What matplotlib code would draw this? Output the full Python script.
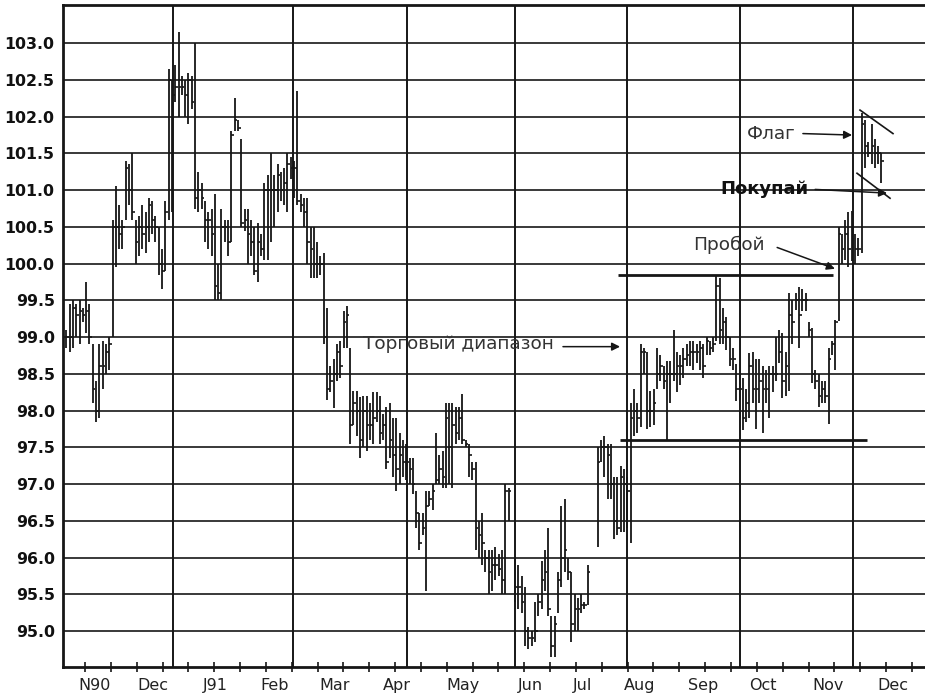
import numpy as np
import matplotlib
matplotlib.use("Agg")
from matplotlib import pyplot as plt

# daily bars (high, low, close), Nov 1990 .. Dec 1991; nan = no trading shown
highs = [99.1, 99.45, 99.5, 99.45, 99.5, 99.4, 99.75, 99.45, 98.9, 98.4,
         98.9, 98.95, 98.9, 99.0, 100.6, 101.05, 100.8, 100.6, 101.4, 101.35,
         101.5, 100.6, 100.65, 100.8, 100.7, 100.9, 100.85, 100.65, 100.5, 100.2,
         100.85, 102.65, 102.5, 102.7, 103.15, 102.55, 102.5, 102.6, 102.55, 103.0,
         101.25, 101.1, 100.85, 100.7, 100.75, 100.95, 100.0, 100.75, 100.6, 100.6,
         101.8, 102.25, 101.95, 101.7, 100.75, 100.75, 100.6, 100.5, 100.55, 100.4,
         101.1, 101.2, 101.5, 101.2, 101.35, 101.25, 101.3, 101.5, 101.45, 101.4,
         102.35, 100.95, 100.9, 100.9, 100.5, 100.5, 100.3, 100.1, 100.15, 99.4,
         98.6, 98.7, 98.9, 98.95, 99.35, 99.43, 98.85, 98.27, 98.27, 98.18,
         98.2, 98.2, 98.1, 98.25, 98.25, 98.2, 97.95, 98.05, 98.1, 97.9,
         97.9, 97.7, 97.6, 97.55, 97.35, 97.36, 96.9, 96.6, 96.6, 96.9,
         96.9, 97.0, 97.7, 97.4, 97.45, 98.1, 98.1, 98.1, 98.05, 98.05,
         98.23, 97.6, 97.55, 97.3, 97.3, 96.5, 96.6, 96.1, 96.1, 96.1,
         96.15, 96.05, 96.1, 97.0, 96.95, np.nan, 96.0, 95.9, 95.75, 95.6,
         95.05, 95.0, 95.4, 95.5, 95.95, 96.1, 96.4, 95.2, 95.2, 95.8,
         96.7, 96.8, 96.0, 95.8, 95.5, 95.45, 95.5, 95.4, 95.9, np.nan,
         np.nan, 97.5, 97.6, 97.65, 97.55, 97.55, 97.1, 97.1, 97.25, 97.2,
         97.1, 98.1, 98.3, 98.1, 98.9, 98.85, 98.8, 98.27, 98.3, 98.85,
         98.75, 98.6, 98.67, 98.67, 99.1, 98.8, 98.75, 98.85, 98.9, 98.95,
         98.95, 98.9, 98.95, 98.9, 99.0, 98.95, 99.0, 99.83, 99.8, 99.4,
         99.27, 99.0, 98.85, 98.63, 98.5, 98.45, 98.3, 98.78, 98.8, 98.7,
         98.7, 98.6, 98.55, 98.6, 98.6, 99.0, 99.1, 99.05, 98.8, 99.6,
         99.5, 99.6, 99.68, 99.65, 99.6, 99.2, 99.13, 98.55, 98.5, 98.4,
         98.4, 98.85, 98.95, 99.23, 100.5, 100.4, 100.6, 100.7, 100.72, 100.4,
         100.35, 102.05, 101.95, 101.65, 101.9, 101.7, 101.6, 101.5]

lows = [98.85, 98.8, 98.85, 99.0, 98.9, 99.2, 99.05, 98.9, 98.1, 97.85,
        97.9, 98.3, 98.5, 98.55, 99.0, 99.95, 100.2, 100.2, 100.6, 100.8,
        100.6, 100.0, 100.1, 100.2, 100.15, 100.3, 100.4, 100.3, 99.85, 99.65,
        99.9, 100.6, 100.7, 102.2, 102.0, 102.3, 102.0, 101.9, 102.1, 100.75,
        100.7, 100.75, 100.3, 100.2, 100.1, 99.5, 99.5, 99.5, 100.3, 100.1,
        100.3, 101.8, 101.8, 100.5, 100.45, 100.0, 100.1, 99.85, 99.75, 100.1,
        100.05, 100.05, 100.3, 100.5, 100.7, 100.85, 100.8, 100.7, 101.15, 100.9,
        100.8, 100.7, 100.5, 100.0, 99.8, 99.8, 99.8, 99.85, 98.9, 98.15,
        98.25, 98.03, 98.4, 98.45, 98.85, 98.85, 97.55, 97.8, 97.65, 97.36,
        97.5, 97.45, 97.6, 97.55, 97.85, 97.55, 97.6, 97.2, 97.35, 97.1,
        96.9, 97.0, 97.1, 97.05, 97.0, 96.87, 96.4, 96.1, 96.3, 95.55,
        96.7, 96.65, 97.0, 97.0, 96.95, 96.95, 97.0, 96.95, 97.55, 97.6,
        97.55, 97.5, 97.1, 97.05, 96.1, 96.0, 95.9, 95.8, 95.5, 95.55,
        95.7, 95.75, 95.5, 95.5, 96.5, np.nan, 95.4, 95.3, 95.25, 94.8,
        94.75, 94.8, 94.85, 95.2, 95.3, 95.55, 95.2, 94.65, 94.65, 95.25,
        95.6, 95.8, 95.7, 94.85, 95.0, 95.0, 95.25, 95.3, 95.35, np.nan,
        np.nan, 96.15, 97.3, 97.1, 96.8, 96.8, 96.25, 96.3, 96.35, 96.35,
        96.4, 96.2, 97.65, 97.7, 97.77, 98.5, 97.75, 97.77, 97.8, 98.3,
        98.4, 98.3, 97.58, 98.1, 98.4, 98.25, 98.35, 98.45, 98.6, 98.6,
        98.55, 98.65, 98.55, 98.45, 98.75, 98.75, 98.8, 98.95, 98.9, 98.9,
        98.82, 98.6, 98.55, 98.13, 98.15, 97.73, 97.85, 97.9, 98.1, 97.75,
        98.1, 97.7, 98.1, 97.9, 98.25, 98.4, 98.65, 98.17, 98.2, 98.27,
        98.9, 99.37, 98.85, 99.35, 99.35, 99.0, 98.37, 98.3, 98.05, 98.1,
        98.1, 97.82, 98.75, 98.55, 99.22, 100.0, 100.05, 99.95, 100.04, 100.0,
        100.1, 100.14, 101.3, 101.45, 101.36, 101.3, 101.35, 101.1]

closes = [99.0, 99.0, 99.4, 99.3, 99.35, 99.3, 99.35, 99.0, 98.3, 98.0,
          98.6, 98.6, 98.8, 98.9, 100.5, 100.5, 100.4, 100.5, 101.3, 101.0,
          100.7, 100.3, 100.5, 100.4, 100.5, 100.8, 100.6, 100.5, 100.0, 99.9,
          100.7, 102.5, 102.3, 102.4, 102.4, 102.4, 102.3, 102.5, 102.2, 100.9,
          101.0, 100.9, 100.6, 100.6, 100.4, 99.7, 99.6, 100.5, 100.5, 100.3,
          101.75, 101.95, 101.85, 100.55, 100.6, 100.4, 100.3, 99.9, 100.3, 100.2,
          101.0, 101.0, 101.0, 101.0, 101.2, 101.0, 101.1, 101.35, 101.3, 101.3,
          100.85, 100.8, 100.7, 100.3, 100.2, 100.0, 100.0, 100.0, 99.0, 98.3,
          98.4, 98.5, 98.8, 98.6, 99.2, 99.3, 97.8, 98.1, 98.0, 97.6,
          98.0, 97.8, 97.8, 97.9, 98.0, 97.7, 97.8, 97.3, 97.6, 97.4,
          97.2, 97.4, 97.3, 97.3, 97.2, 97.0, 96.6, 96.2, 96.4, 96.7,
          96.8, 96.9, 97.05, 97.2, 97.1, 97.9, 97.5, 97.8, 97.7, 97.9,
          97.6, 97.55, 97.4, 97.2, 96.4, 96.3, 96.2, 96.0, 95.8, 95.9,
          95.9, 95.85, 95.7, 96.9, 96.9, np.nan, 95.6, 95.6, 95.4, 95.0,
          94.9, 94.9, 95.0, 95.4, 95.7, 95.8, 95.3, 94.8, 95.1, 95.7,
          96.0, 96.1, 95.8, 95.1, 95.3, 95.3, 95.35, 95.35, 95.8, np.nan,
          np.nan, 97.3, 97.5, 97.5, 97.4, 97.0, 96.5, 96.4, 97.1, 97.0,
          96.9, 97.9, 98.0, 97.9, 98.8, 98.8, 98.0, 98.0, 98.1, 98.5,
          98.6, 98.4, 98.5, 98.5, 98.5, 98.6, 98.6, 98.7, 98.75, 98.8,
          98.8, 98.8, 98.85, 98.6, 98.95, 98.85, 98.9, 99.7, 99.1, 99.2,
          99.0, 98.7, 98.7, 98.3, 98.3, 97.9, 98.1, 98.6, 98.3, 98.3,
          98.4, 98.3, 98.3, 98.5, 98.5, 98.5, 98.8, 98.4, 98.6, 99.3,
          99.2, 99.5, 99.3, 99.5, 99.5, 99.1, 98.5, 98.4, 98.2, 98.3,
          98.2, 98.7, 98.9, 99.2, 100.4, 100.2, 100.4, 100.2, 100.5, 100.2,
          100.2, 101.9, 101.6, 101.5, 101.6, 101.5, 101.5, 101.4]

months = ["N90", "Dec", "J91", "Feb", "Mar", "Apr", "May", "Jun",
          "Jul", "Aug", "Sep", "Oct", "Nov", "Dec"]
# label centres and grid lines, in trading days from the left edge
month_pos = [9.7, 27.3, 46.1, 64.2, 82.4, 101.2, 121.2, 141.5,
             157.3, 174.8, 193.9, 212.1, 231.8, 251.5]
grid_days = [33.3, 69.7, 104.2, 137.0, 170.9, 205.2, 239.4]

resistance = 99.85
support = 97.6

highs = np.array(highs)
lows = np.array(lows)
closes = np.array(closes)
days = np.arange(1, len(highs) + 1)
ok = ~np.isnan(highs)

ink = "#161616"
fig = plt.figure(figsize=(9.25, 6.94), dpi=100)
ax = fig.add_axes([63 / 925, 1 - 667 / 694, 1 - 63 / 925, 662 / 694])
ax.set_xlim(0, 261.2)
ax.set_ylim(94.51, 103.52)

# grid
for lvl in np.arange(95.0, 103.01, 0.5):
    ax.axhline(lvl, color="#2a2a2a", lw=1.3, zorder=1)
for g in grid_days:
    ax.axvline(g, color=ink, lw=1.4, zorder=1)

# HLC bars
ax.vlines(days[ok], lows[ok], highs[ok], color=ink, lw=1.3, zorder=3)
ax.hlines(closes[ok], days[ok], days[ok] + 0.8, color=ink, lw=1.2, zorder=3)

# trading range and flag lines
ax.hlines(resistance, 168.2, 233.3, color=ink, lw=2.0, zorder=4)
ax.hlines(support, 168.8, 243.6, color=ink, lw=2.0, zorder=4)
ax.plot([241.5, 251.5], [102.09, 101.77], color=ink, lw=1.2, zorder=4)
ax.plot([240.6, 250.6], [101.23, 100.89], color=ink, lw=1.2, zorder=4)

arw = dict(arrowstyle="-|>", color=ink, lw=1.1, mutation_scale=12,
           shrinkA=0, shrinkB=0)
txt = dict(fontsize=13.3, color="#333333", va="center", ha="left")
ax.text(90.9, 98.91, "Торговый диапазон", **txt)
ax.annotate("", xy=(168.8, 98.87), xytext=(151.5, 98.87), arrowprops=arw)
ax.text(190.9, 100.25, "Пробой", **txt)
ax.annotate("", xy=(233.9, 99.93), xytext=(216.4, 100.22), arrowprops=arw)
ax.text(199.1, 101.01, "Покупай", fontsize=13, fontweight="bold",
        color="#111111", va="center", ha="left")
ax.annotate("", xy=(249.7, 100.96), xytext=(227.9, 101.01), arrowprops=arw)
ax.text(207.3, 101.77, "Флаг", **txt)
ax.annotate("", xy=(239.1, 101.75), xytext=(224.2, 101.77), arrowprops=arw)

# axes
ax.set_yticks(np.arange(95.0, 103.01, 0.5))
ax.set_yticklabels([f"{v:.1f}" for v in np.arange(95.0, 103.01, 0.5)],
                   fontsize=11.3, fontweight="bold", color="#111111")
ax.tick_params(axis="y", length=0, pad=6)
ax.set_xticks(6.67 + 7.83 * np.arange(33))
ax.set_xticklabels([])
ax.tick_params(axis="x", which="major", direction="inout", length=7,
               width=1.2, color=ink)
ax.set_xticks(month_pos, minor=True)
ax.set_xticklabels(months, minor=True, fontsize=11.5, color="#222222")
ax.tick_params(axis="x", which="minor", length=0, pad=8)

for side in ["left", "bottom", "top"]:
    ax.spines[side].set_linewidth(2.0)
    ax.spines[side].set_color(ink)
ax.spines["right"].set_visible(False)

fig.savefig("out.png", dpi=100)
